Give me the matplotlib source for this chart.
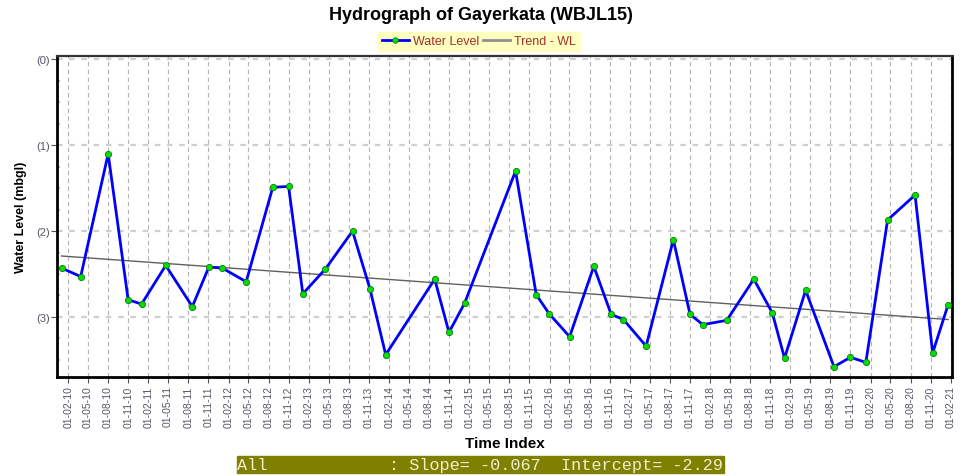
import matplotlib
matplotlib.use("Agg")
import matplotlib.pyplot as plt
import matplotlib.dates as mdates
from matplotlib.lines import Line2D
from matplotlib.ticker import MultipleLocator, FuncFormatter
import numpy as np
import pandas as pd

plt.rcParams['font.family'] = ['Liberation Sans', 'DejaVu Sans']

# Observation dates and water levels (m below ground level, stored as negatives)
obs_dates = [
    "2010-01-02", "2010-03-30", "2010-08-02", "2010-11-01", "2011-01-01",
    "2011-04-21", "2011-08-20", "2011-11-03", "2012-01-03", "2012-04-21",
    "2012-08-20", "2012-10-31", "2013-01-04", "2013-04-17", "2013-08-18",
    "2013-11-05", "2014-01-16", "2014-08-27", "2014-10-31", "2015-01-10",
    "2015-08-30", "2015-12-02", "2016-01-29", "2016-05-02", "2016-08-20",
    "2016-11-07", "2017-01-02", "2017-04-15", "2017-08-17", "2017-11-01",
    "2017-12-29", "2018-04-17", "2018-08-18", "2018-11-10", "2019-01-05",
    "2019-04-11", "2019-08-18", "2019-11-01", "2020-01-10", "2020-04-18",
    "2020-08-21", "2020-11-09", "2021-01-18",
]
water_level = [
    -2.43, -2.53, -1.10, -2.80, -2.85,
    -2.40, -2.88, -2.42, -2.43, -2.59,
    -1.49, -1.48, -2.73, -2.44, -2.00,
    -2.67, -3.44, -2.56, -3.18, -2.84,
    -1.30, -2.74, -2.96, -3.23, -2.41,
    -2.97, -3.03, -3.34, -2.10, -2.97,
    -3.09, -3.04, -2.56, -2.95, -3.48,
    -2.69, -3.58, -3.47, -3.53, -1.87,
    -1.58, -3.42, -2.86,
]

# Linear trend (per year, from the first observation)
slope = -0.067
intercept = -2.29

# Quarterly time-axis ticks
tick_dates = pd.date_range("2010-02-01", "2021-02-01", freq="3MS")

dates = pd.to_datetime(obs_dates)
years = (dates - dates[0]).days / 365.25
trend_x = [dates[0], dates[-1]]
trend_y = [intercept, intercept + slope * years[-1]]

fig = plt.figure(figsize=(9.77, 4.77), dpi=100)
ax = fig.add_axes([0.0583, 0.2075, 0.9161, 0.673])

# Grid
for d in tick_dates:
    ax.axvline(d, color="#b4b4b4", lw=0.8, ls=(0, (4, 3)), zorder=0)
for yv in [0, -1, -2, -3]:
    ax.axhline(yv, color="#cfcfcf", lw=1.6, ls=(0, (2.5, 3)), zorder=0)

ax.plot(trend_x, trend_y, color="#606060", lw=1.0, zorder=2)
ax.plot(dates, water_level, color="#0000ff", lw=2.0, marker="o", ms=4.5,
        mfc="#00e000", mec="#117711", mew=0.6, zorder=3)

ax.set_xlim(pd.Timestamp("2009-12-12"), pd.Timestamp("2021-02-05"))
ax.set_ylim(-3.70, 0.04)

ax.set_xticks(tick_dates)
ax.xaxis.set_major_formatter(mdates.DateFormatter("%d-%m-%y"))
ax.tick_params(axis="x", labelrotation=90, labelsize=7.5, colors="#555555",
               length=4, width=0.8, pad=2)
for lab in ax.get_xticklabels():
    lab.set_color("#555566")

ax.yaxis.set_major_locator(MultipleLocator(1))
ax.yaxis.set_minor_locator(MultipleLocator(0.25))
ax.yaxis.set_major_formatter(FuncFormatter(lambda v, p: f"({abs(int(round(v)))})"))
ax.tick_params(axis="y", which="major", labelsize=8, length=4, width=0.8,
               colors="#555555", pad=1)
for lab in ax.get_yticklabels():
    lab.set_color("#555566")
ax.tick_params(axis="y", which="minor", direction="in", length=2.5, width=1.2,
               colors="#c8c800")

for side in ["left", "bottom", "right"]:
    ax.spines[side].set_linewidth(2.0)
    ax.spines[side].set_color("black")
ax.spines["top"].set_linewidth(1.6)
ax.spines["top"].set_color("#333333")

ax.set_xlabel("Time Index", fontsize=11, fontweight="bold", labelpad=6)
ax.set_ylabel("Water Level (mbgl)", fontsize=9, fontweight="bold", labelpad=7)

fig.suptitle("Hydrograph of Gayerkata (WBJL15)", x=0.492, y=0.985,
             fontsize=13, fontweight="bold")

handles = [
    Line2D([], [], color="#0000ff", lw=2, marker="o", ms=4,
           mfc="#00e000", mec="#117711", mew=0.5),
    Line2D([], [], color="#909090", lw=2),
]
leg = fig.legend(handles, ["Water Level", "Trend - WL"], loc="center",
                 bbox_to_anchor=(0.490, 0.911), ncol=2, fontsize=9,
                 frameon=True, facecolor="#ffffc0", edgecolor="#ffffc0",
                 fancybox=False, borderpad=0.3, handlelength=2.2,
                 handletextpad=0.3, columnspacing=0.3, framealpha=1)
for t in leg.get_texts():
    t.set_color("#a03030")

fig.text(0.4917, 0.0245,
         "All            : Slope= -0.067  Intercept= -2.29",
         family=["Liberation Mono", "DejaVu Sans Mono"], fontsize=12.2,
         color="#f0f0d0", ha="center", va="center",
         bbox=dict(boxstyle="square,pad=0.05", facecolor="#808000",
                   edgecolor="#808000"))

fig.savefig("out.png", dpi=100)
